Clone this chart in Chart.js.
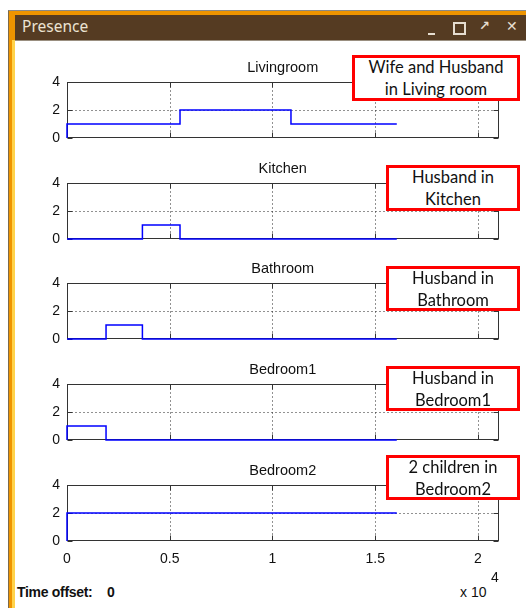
<!DOCTYPE html>
<html><head><meta charset="utf-8">
<script src="https://cdn.jsdelivr.net/npm/chart.js@4.4.1/dist/chart.umd.min.js"></script>
<style>
html,body{margin:0;padding:0;width:526px;height:608px;overflow:hidden;background:#fff;font-family:'Liberation Sans',Arial,sans-serif;}
#frame{position:absolute;left:8px;top:10px;width:518px;height:598px;background:#ee9400;border-left:1px solid #7d6a4a;border-top:1px solid #8a8a8a;box-sizing:border-box;}
#strip{position:absolute;left:12px;top:40px;width:3px;height:568px;background:#ffd24a;}
#titlebar{position:absolute;left:15px;top:15px;width:511px;height:25px;background:#553b22;}
#ttext{position:absolute;left:22px;top:15px;height:25px;line-height:26px;color:#ece3d2;font:15.5px 'Noto Sans',sans-serif;}
#content{position:absolute;left:15px;top:40px;width:511px;height:568px;background:#fff;border-top:1px solid #9a8f80;box-sizing:border-box;}
.ctl{position:absolute;color:#e6ddd0;}
canvas{position:absolute;}
.note{position:absolute;box-sizing:border-box;border:3px solid #f00;background:#fff;font:16.5px Lato,sans-serif;color:#111;text-align:center;line-height:22px;display:flex;flex-direction:column;justify-content:center;z-index:5;}
#xexp{position:absolute;left:460px;top:584px;font:14px 'Liberation Sans',Arial,sans-serif;color:#111;}
#xexp sup{position:absolute;left:31px;top:-15px;font-size:14px;}
.toff{position:absolute;top:584px;font:bold 14px 'Liberation Sans',Arial,sans-serif;color:#111;letter-spacing:-0.3px;}
</style>
</head><body>
<div id="frame"></div>
<div id="titlebar"></div>
<div id="ttext">Presence</div>
<div class="ctl" style="left:428px;top:33px;width:7px;height:2px;background:#e6ddd0;"></div>
<div class="ctl" style="left:453px;top:22px;width:9px;height:9px;border:2px solid #e6ddd0;"></div>
<div class="ctl" style="left:479px;top:18px;font:bold 13px 'DejaVu Sans',sans-serif;">&#8599;</div>
<div class="ctl" style="left:506px;top:18px;font:bold 14px 'DejaVu Sans',sans-serif;">&#10005;</div>
<div id="content"></div>
<div id="strip"></div>
<div id="charts"></div>
<div id="xexp">x 10<sup>4</sup></div>
<div class="toff" style="left:17px;">Time offset:</div>
<div class="toff" style="left:107px;">0</div>
<script>
// ---- data ----
const ROOMS = ['Livingroom', 'Kitchen', 'Bathroom', 'Bedroom1', 'Bedroom2'];
const T_LIVING   = [0, 0, 5500, 10900, 16050];
const V_LIVING   = [0, 1, 2, 1, 1];
const T_KITCHEN  = [0, 3670, 5500, 16050];
const V_KITCHEN  = [0, 1, 0, 0];
const T_BATH     = [0, 1900, 3670, 16050];
const V_BATH     = [0, 1, 0, 0];
const T_BED1     = [0, 0, 1900, 16050];
const V_BED1     = [0, 1, 0, 0];
const T_BED2     = [0, 0, 16050];
const V_BED2     = [0, 2, 2];
const X_TICKS = [0, 5000, 10000, 15000, 20000];
const Y_TICKS = [0, 2, 4];
const X_MAX = 21000;
const Y_MAX = 4;
const NOTES = [
  ['Wife and Husband', 'in Living room'],
  ['Husband in', 'Kitchen'],
  ['Husband in', 'Bathroom'],
  ['Husband in', 'Bedroom1'],
  ['2 children in', 'Bedroom2']
];
const SERIES = [[T_LIVING, V_LIVING], [T_KITCHEN, V_KITCHEN], [T_BATH, V_BATH], [T_BED1, V_BED1], [T_BED2, V_BED2]];

// ---- layout ----
const PLOT_TOPS = [82, 183, 283, 384, 485];
const PLOT_H = 56;
const NOTE_BOX = [[352, 55, 168, 46], [386, 165, 134, 46], [386, 266, 134, 45], [386, 366, 134, 45], [386, 455, 134, 45]];

Chart.defaults.font.family = "'Liberation Sans', Arial, sans-serif";
Chart.defaults.color = '#111';

const matlabAxes = {
  id: 'matlabAxes',
  beforeDatasetsDraw(chart) {
    const {ctx, chartArea: a, scales: {x, y}} = chart;
    const snap = v => Math.round(v) + 0.5;
    const L = snap(a.left), R = snap(a.right) - 1, T = snap(a.top), B = snap(a.bottom) - 1;
    ctx.save();
    ctx.lineWidth = 1;
    ctx.strokeStyle = '#222';
    ctx.setLineDash([1, 3]);
    x.ticks.forEach(t => {
      if (t.value <= x.min || t.value >= x.max) return;
      const px = snap(x.getPixelForValue(t.value));
      ctx.beginPath(); ctx.moveTo(px, T); ctx.lineTo(px, B); ctx.stroke();
    });
    y.ticks.forEach(t => {
      if (t.value <= y.min || t.value >= y.max) return;
      const py = snap(y.getPixelForValue(t.value));
      ctx.beginPath(); ctx.moveTo(L, py); ctx.lineTo(R, py); ctx.stroke();
    });
    ctx.setLineDash([]);
    ctx.strokeStyle = '#333';
    x.ticks.forEach(t => {
      const px = snap(x.getPixelForValue(t.value));
      ctx.beginPath(); ctx.moveTo(px, B); ctx.lineTo(px, B - 5); ctx.moveTo(px, T); ctx.lineTo(px, T + 5); ctx.stroke();
    });
    y.ticks.forEach(t => {
      const py = snap(y.getPixelForValue(t.value));
      ctx.beginPath(); ctx.moveTo(L, py); ctx.lineTo(L + 5, py); ctx.moveTo(R, py); ctx.lineTo(R - 5, py); ctx.stroke();
    });
    ctx.strokeRect(L, T, R - L, B - T);
    ctx.restore();
  },
  afterDraw(chart, args, opts) {
    const {ctx, chartArea: a} = chart;
    ctx.save();
    ctx.fillStyle = '#111';
    ctx.font = "14.5px 'Liberation Sans', Arial, sans-serif";
    ctx.textAlign = 'center';
    ctx.textBaseline = 'alphabetic';
    ctx.fillText(opts.text, (a.left + a.right) / 2, a.top - 10.5);
    ctx.restore();
  }
};

const holder = document.getElementById('charts');
ROOMS.forEach((room, i) => {
  const isLast = i === ROOMS.length - 1;
  const canvas = document.createElement('canvas');
  const canvasTop = PLOT_TOPS[i] - 30;
  const xh = isLast ? 30 : 18;
  const W = 486, H = 30 + PLOT_H + xh;
  canvas.width = W; canvas.height = H;
  canvas.style.left = '40px'; canvas.style.top = canvasTop + 'px';
  canvas.style.width = W + 'px'; canvas.style.height = H + 'px';
  holder.appendChild(canvas);
  const [ts, vs] = SERIES[i];
  new Chart(canvas, {
    type: 'line',
    data: {
      datasets: [{
        data: ts.map((t, k) => ({x: t, y: vs[k]})),
        borderColor: '#0000ff',
        borderWidth: 1.5,
        pointRadius: 0,
        stepped: true,
        fill: false,
        clip: false
      }]
    },
    options: {
      responsive: false,
      animation: false,
      devicePixelRatio: 1,
      layout: {padding: {top: 30, right: 27.5, bottom: 0, left: 0}},
      plugins: {
        legend: {display: false},
        tooltip: {enabled: false},
        title: {display: false},
        matlabAxes: {text: room}
      },
      scales: {
        x: {
          type: 'linear', min: 0, max: X_MAX,
          afterBuildTicks: s => { s.ticks = X_TICKS.map(v => ({value: v})); },
          afterFit: s => { s.height = xh; },
          grid: {display: false, drawTicks: false},
          border: {display: false},
          ticks: {display: isLast, font: {size: 14}, color: '#111', padding: 10, maxRotation: 0, autoSkip: false,
                  callback: v => String(v / 10000)}
        },
        y: {
          type: 'linear', min: 0, max: Y_MAX,
          afterBuildTicks: s => { s.ticks = Y_TICKS.map(v => ({value: v})); },
          afterFit: s => { s.width = 27; },
          grid: {display: false, drawTicks: false},
          border: {display: false},
          ticks: {font: {size: 14}, color: '#111', padding: 7}
        }
      }
    },
    plugins: [matlabAxes]
  });
  const nb = NOTE_BOX[i];
  const note = document.createElement('div');
  note.className = 'note';
  note.style.left = nb[0] + 'px'; note.style.top = nb[1] + 'px';
  note.style.width = nb[2] + 'px'; note.style.height = nb[3] + 'px';
  NOTES[i].forEach(line => { const d = document.createElement('div'); d.textContent = line; note.appendChild(d); });
  document.body.appendChild(note);
});
</script>
</body></html>
